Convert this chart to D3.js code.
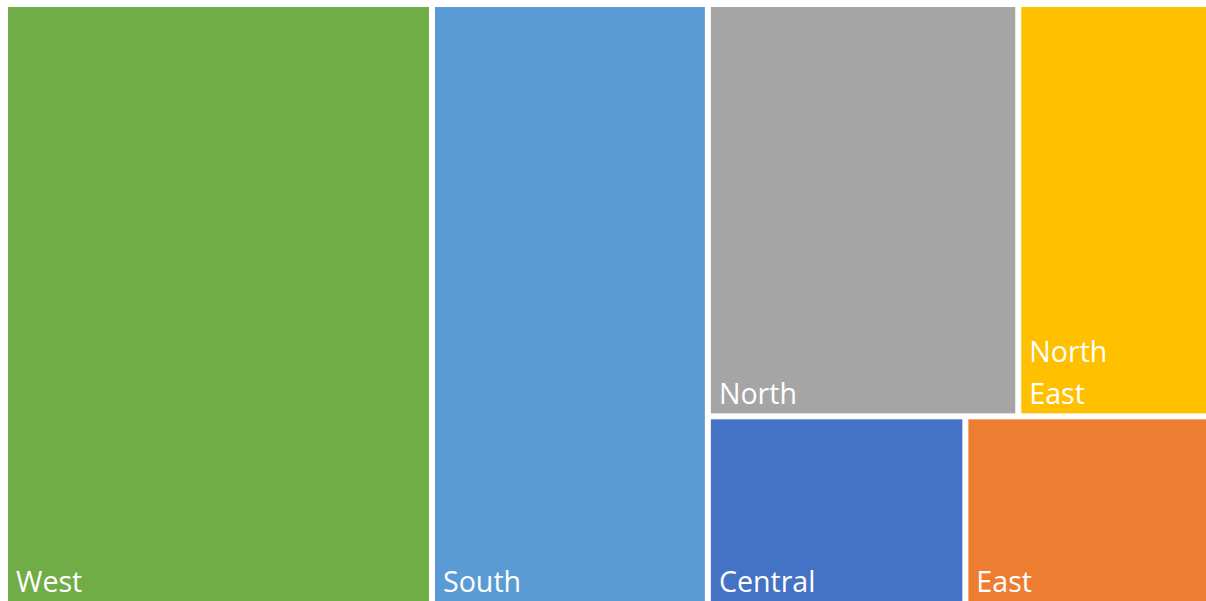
<!DOCTYPE html>
<html>
<head>
<meta charset="utf-8">
<script src="https://cdn.jsdelivr.net/npm/d3@7"></script>
<style>
  html, body { margin: 0; padding: 0; background: #ffffff; }
  svg { display: block; }
</style>
</head>
<body>
<svg id="chart" width="1206" height="601"></svg>
<script>
// ---- data ----
const categories = ["West", "South", "North", "North East", "Central", "East"];
const values = [3547, 2292, 1772, 1089, 669, 633];
const colors = ["#70AD47", "#5B9BD5", "#A5A5A5", "#FFC000", "#4472C4", "#ED7D31"];
// layout grouping (indices into categories): columns, then rows, then cells
const blocks = [[0], [1], [[2, 3], [4, 5]]];

// ---- build hierarchy ----
function build(b) {
  if (typeof b === "number") return { name: categories[b], value: values[b], color: colors[b] };
  if (b.length === 1 && typeof b[0] === "number") return build(b[0]);
  return { children: b.map(build) };
}
const rootData = { children: blocks.map(build) };

const width = 1206, height = 601;
const margin = { left: 8, top: 7, right: 0, bottom: 0 };

const root = d3.hierarchy(rootData).sum(d => d.children ? 0 : d.value);

d3.treemap()
  .tile(d3.treemapSliceDice)
  .size([width - margin.left - margin.right, height - margin.top - margin.bottom])
  .paddingInner(6)(root);

const svg = d3.select("#chart");
const g = svg.append("g").attr("transform", `translate(${margin.left},${margin.top})`);

const leaves = g.selectAll("g.leaf").data(root.leaves()).join("g")
  .attr("class", "leaf")
  .attr("transform", d => `translate(${d.x0},${d.y0})`);

leaves.append("rect")
  .attr("width", d => d.x1 - d.x0)
  .attr("height", d => d.y1 - d.y0)
  .attr("fill", d => d.data.color);

const fontSize = 28.6, lineH = 42, padL = 8, padB = 9;
leaves.each(function(d) {
  const w = d.x1 - d.x0, h = d.y1 - d.y0;
  const words = d.data.name.split(" ");
  const lines = (w < 250 && words.length > 1) ? words : [d.data.name];
  const t = d3.select(this).append("text")
    .attr("font-family", "'Open Sans', 'Segoe UI', sans-serif")
    .attr("font-size", fontSize)
    .attr("fill", "#ffffff");
  lines.forEach((ln, i) => {
    t.append("tspan")
      .attr("x", padL)
      .attr("y", h - padB - (lines.length - 1 - i) * lineH)
      .text(ln);
  });
});
</script>
</body>
</html>
